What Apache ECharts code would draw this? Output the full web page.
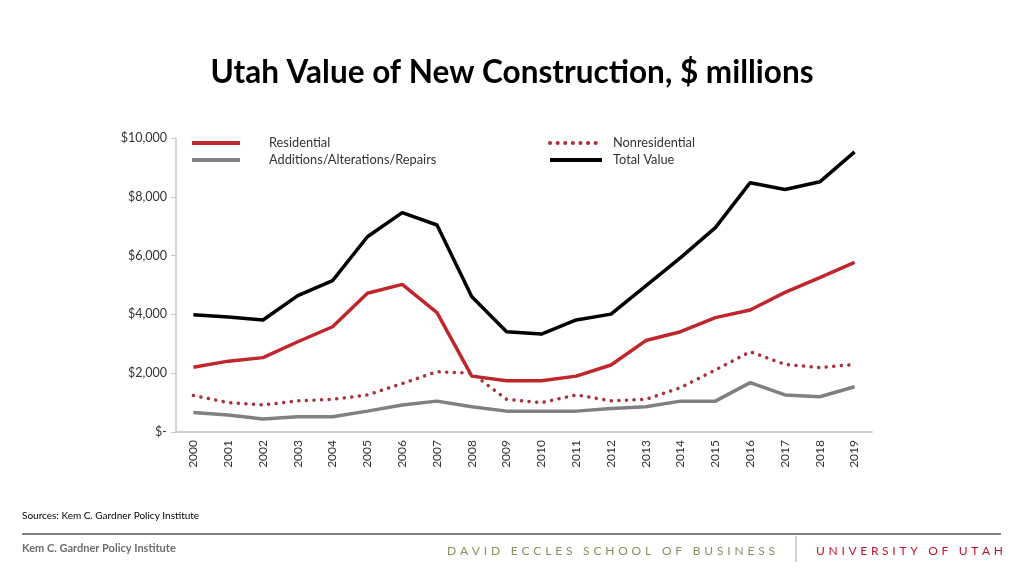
<!DOCTYPE html>
<html><head><meta charset="utf-8">
<script src="https://cdn.jsdelivr.net/npm/echarts@6/dist/echarts.min.js"></script>
<style>html,body{margin:0;padding:0;background:#fff}#c{width:1024px;height:576px}</style>
</head><body><div id="c"></div>
<script>
const years = ['2000','2001','2002','2003','2004','2005','2006','2007','2008','2009','2010','2011','2012','2013','2014','2015','2016','2017','2018','2019'];
const residential = [2200,2410,2530,3070,3580,4720,5020,4060,1900,1740,1740,1900,2280,3110,3410,3890,4150,4750,5250,5770];
const nonresidential = [1240,1000,920,1060,1110,1260,1650,2050,2000,1110,1000,1260,1060,1110,1510,2110,2730,2300,2190,2300];
const additions = [660,580,440,520,520,710,920,1050,860,710,710,710,800,860,1050,1050,1680,1260,1200,1540];
const totalValue = [3990,3910,3810,4640,5150,6640,7460,7040,4600,3410,3330,3810,4010,4970,5930,6950,8480,8250,8510,9530];

const chart = echarts.init(document.getElementById('c'));
const font = 'Lato, "Open Sans", sans-serif';
function fmt(v){ return v === 0 ? '$-' : '$' + v.toLocaleString('en-US'); }

// spaced-letter text helper (layout only)
const mctx = document.createElement('canvas').getContext('2d');
function spacedText(str, x0, width, y, fontStr, color) {
  mctx.font = fontStr;
  const chars = str.split('');
  const widths = chars.map(c => mctx.measureText(c).width);
  const sum = widths.reduce((a, b) => a + b, 0);
  const gap = (width - sum) / (chars.length - 1);
  const out = [];
  let x = x0;
  chars.forEach((c, i) => {
    if (c !== ' ') out.push({ type: 'text', x: x, y: y, style: { text: c, font: fontStr, fill: color, textVerticalAlign: 'middle' } });
    x += widths[i] + gap;
  });
  return out;
}

const legendText = { fontFamily: font, fontSize: 12.8, color: '#333', lineHeight: 14 };
chart.setOption({
  animation: false,
  title: {
    text: 'Utah Value of New Construction, $ millions',
    left: 'center', top: 52,
    textStyle: { fontFamily: font, fontWeight: 'bold', fontSize: 31.5, color: '#000' }
  },
  legend: [
    { data: ['Residential','Additions/Alterations/Repairs'], orient: 'vertical', left: 185, top: 131,
      itemWidth: 48, itemHeight: 14, itemGap: 3, itemStyle: { opacity: 0 }, lineStyle: { width: 4 },
      textStyle: Object.assign({ padding: [0,0,0,24] }, legendText) },
    { data: ['Nonresidential','Total Value'], orient: 'vertical', left: 543, top: 131,
      itemWidth: 52, itemHeight: 14, itemGap: 3, itemStyle: { opacity: 0 }, lineStyle: { width: 4 },
      textStyle: Object.assign({ padding: [0,0,0,6] }, legendText) }
  ],
  grid: { left: 176, right: 152, top: 138, bottom: 144 },
  xAxis: {
    type: 'category', data: years, boundaryGap: true,
    axisLine: { lineStyle: { color: '#d0d0d0', width: 2 } },
    axisTick: { show: false },
    axisLabel: { rotate: 90, fontFamily: font, fontSize: 12, color: '#333', margin: 8 }
  },
  yAxis: {
    type: 'value', min: 0, max: 10000, interval: 2000,
    axisLine: { show: true, lineStyle: { color: '#c8c8c8', width: 1.5 } },
    axisTick: { show: true, length: 5, lineStyle: { color: '#c8c8c8' } },
    splitLine: { show: false },
    axisLabel: { fontFamily: font, fontSize: 12.5, color: '#333', margin: 9, formatter: fmt }
  },
  series: [
    { name: 'Residential', type: 'line', data: residential, symbol: 'none',
      lineStyle: { color: '#c0272d', width: 3.5 }, itemStyle: { color: '#c0272d' } },
    { name: 'Additions/Alterations/Repairs', type: 'line', data: additions, symbol: 'none',
      lineStyle: { color: '#808080', width: 3.5 }, itemStyle: { color: '#808080' } },
    { name: 'Nonresidential', type: 'line', data: nonresidential, symbol: 'none',
      lineStyle: { color: '#a8303f', width: 3.5, type: [0.1, 7.5], cap: 'round' }, itemStyle: { color: '#a8303f' } },
    { name: 'Total Value', type: 'line', data: totalValue, symbol: 'none',
      lineStyle: { color: '#000', width: 3.5 }, itemStyle: { color: '#000' } }
  ],
  graphic: [
    { type: 'text', left: 22, top: 511, style: { text: 'Sources: Kem C. Gardner Policy Institute', font: '10px ' + font, fill: '#000' } },
    { type: 'line', shape: { x1: 22, y1: 534, x2: 1001, y2: 534 }, style: { stroke: '#000', lineWidth: 1.2 } },
    { type: 'text', left: 22, top: 543, style: { text: 'Kem C. Gardner Policy Institute', font: 'bold 11px ' + font, fill: '#6d6d6d' } },
    { type: 'line', shape: { x1: 796, y1: 536, x2: 796, y2: 562 }, style: { stroke: '#a8a8a8', lineWidth: 1 } }
  ].concat(
    spacedText('DAVID ECCLES SCHOOL OF BUSINESS', 447, 328, 551, '12px ' + font, '#8b8f5c'),
    spacedText('UNIVERSITY OF UTAH', 816, 187, 551, '12px ' + font, '#c8102e')
  )
});
</script></body></html>
